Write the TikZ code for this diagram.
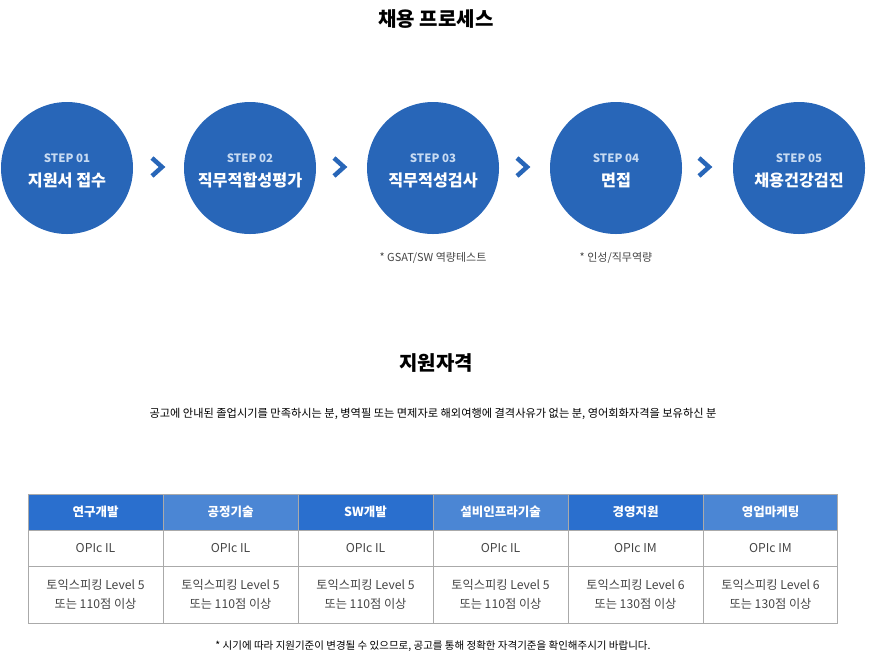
\documentclass[tikz,border=0pt]{standalone}
\usepackage{fontspec}
\setmainfont{Noto Sans CJK KR}
\begin{document}
\begin{tikzpicture}[x=1pt,y=-1pt,
  circ/.style={circle,fill=cblue,minimum size=132pt,inner sep=0pt,align=center,text=white},
  chev/.style={draw=cblue,line width=4.5pt},
  hd/.style={minimum width=135pt,minimum height=36pt,inner sep=0pt,text=white,font=\fontsize{12.5}{14}\selectfont\bfseries},
  cell/.style={minimum width=135pt,inner sep=0pt,text=tgray,align=center,font=\fontsize{12.2}{19}\selectfont},
  title/.style={font=\fontsize{20}{24}\selectfont\bfseries,text=black}]
\definecolor{cblue}{HTML}{2866B8}
\definecolor{stepc}{HTML}{C8DBF2}
\definecolor{hda}{HTML}{2A6FCE}
\definecolor{hdb}{HTML}{4B86D4}
\definecolor{tgray}{HTML}{444444}
\definecolor{grid}{HTML}{AAAAAA}
\useasboundingbox (0,0) rectangle (872,657);
\node[title] (t1) at (436,19) {채용 프로세스};
\foreach \i/\x/\s in {1/67/지원서 접수,2/250/직무적합성평가,3/433/직무적성검사,4/616/면접,5/799/채용건강검진}{
  \node[circ] (c\i) at (\x,168) {};
  \node[text=stepc,font=\fontsize{11.5}{12}\selectfont\bfseries] (s\i) at (\x,158) {STEP 0\i};
  \node[text=white,font=\fontsize{16.2}{17}\selectfont\bfseries] (n\i) at (\x,180) {\s};
}
\foreach \x [count=\k] in {158,340,523,705}{
  \draw[chev] (\x-6,158) -- (\x+4,167) -- (\x-6,176);
}
\node[font=\fontsize{11}{12}\selectfont,text=tgray] (f3) at (433,258) {* GSAT/SW 역량테스트};
\node[font=\fontsize{11}{12}\selectfont,text=tgray] (f4) at (616,258) {* 인성/직무역량};
\node[title] (t2) at (436,363) {지원자격};
\node[font=\fontsize{11.2}{12}\selectfont,text=black] (sub) at (433,414) {공고에 안내된 졸업시기를 만족하시는 분, 병역필 또는 면제자로 해외여행에 결격사유가 없는 분, 영어회화자격을 보유하신 분};
\foreach \i/\h/\c/\o in {0/연구개발/hda/OPIc IL,1/공정기술/hdb/OPIc IL,2/SW개발/hda/OPIc IL,3/설비인프라기술/hdb/OPIc IL,4/경영지원/hda/OPIc IM,5/영업마케팅/hdb/OPIc IM}{
  \pgfmathsetmacro\xx{28+135*\i+67.5}
  \fill[\c] (28+135*\i,494) rectangle (28+135*\i+135,530);
  \node[hd] (h\i) at (\xx,512) {\h};
  \node[cell] (o\i) at (\xx,548) {\o};
}
\foreach \i/\lv/\scr in {0/5/110,1/5/110,2/5/110,3/5/110,4/6/130,5/6/130}{
  \pgfmathsetmacro\xx{28+135*\i+67.5}
  \node[cell] (l\i) at (\xx,594) {토익스피킹 Level \lv\\또는 \scr{}점 이상};
}
\draw[grid,line width=1pt] (28,494) rectangle (837,623);
\draw[grid] (28,530) -- (837,530) (28,566) -- (837,566);
\foreach \i in {1,...,5}{\draw[grid] (28+135*\i,494) -- (28+135*\i,623);}
\node[font=\fontsize{10.5}{12}\selectfont,text=black] (note) at (433,646) {* 시기에 따라 지원기준이 변경될 수 있으므로, 공고를 통해 정확한 자격기준을 확인해주시기 바랍니다.};
\end{tikzpicture}
\end{document}
